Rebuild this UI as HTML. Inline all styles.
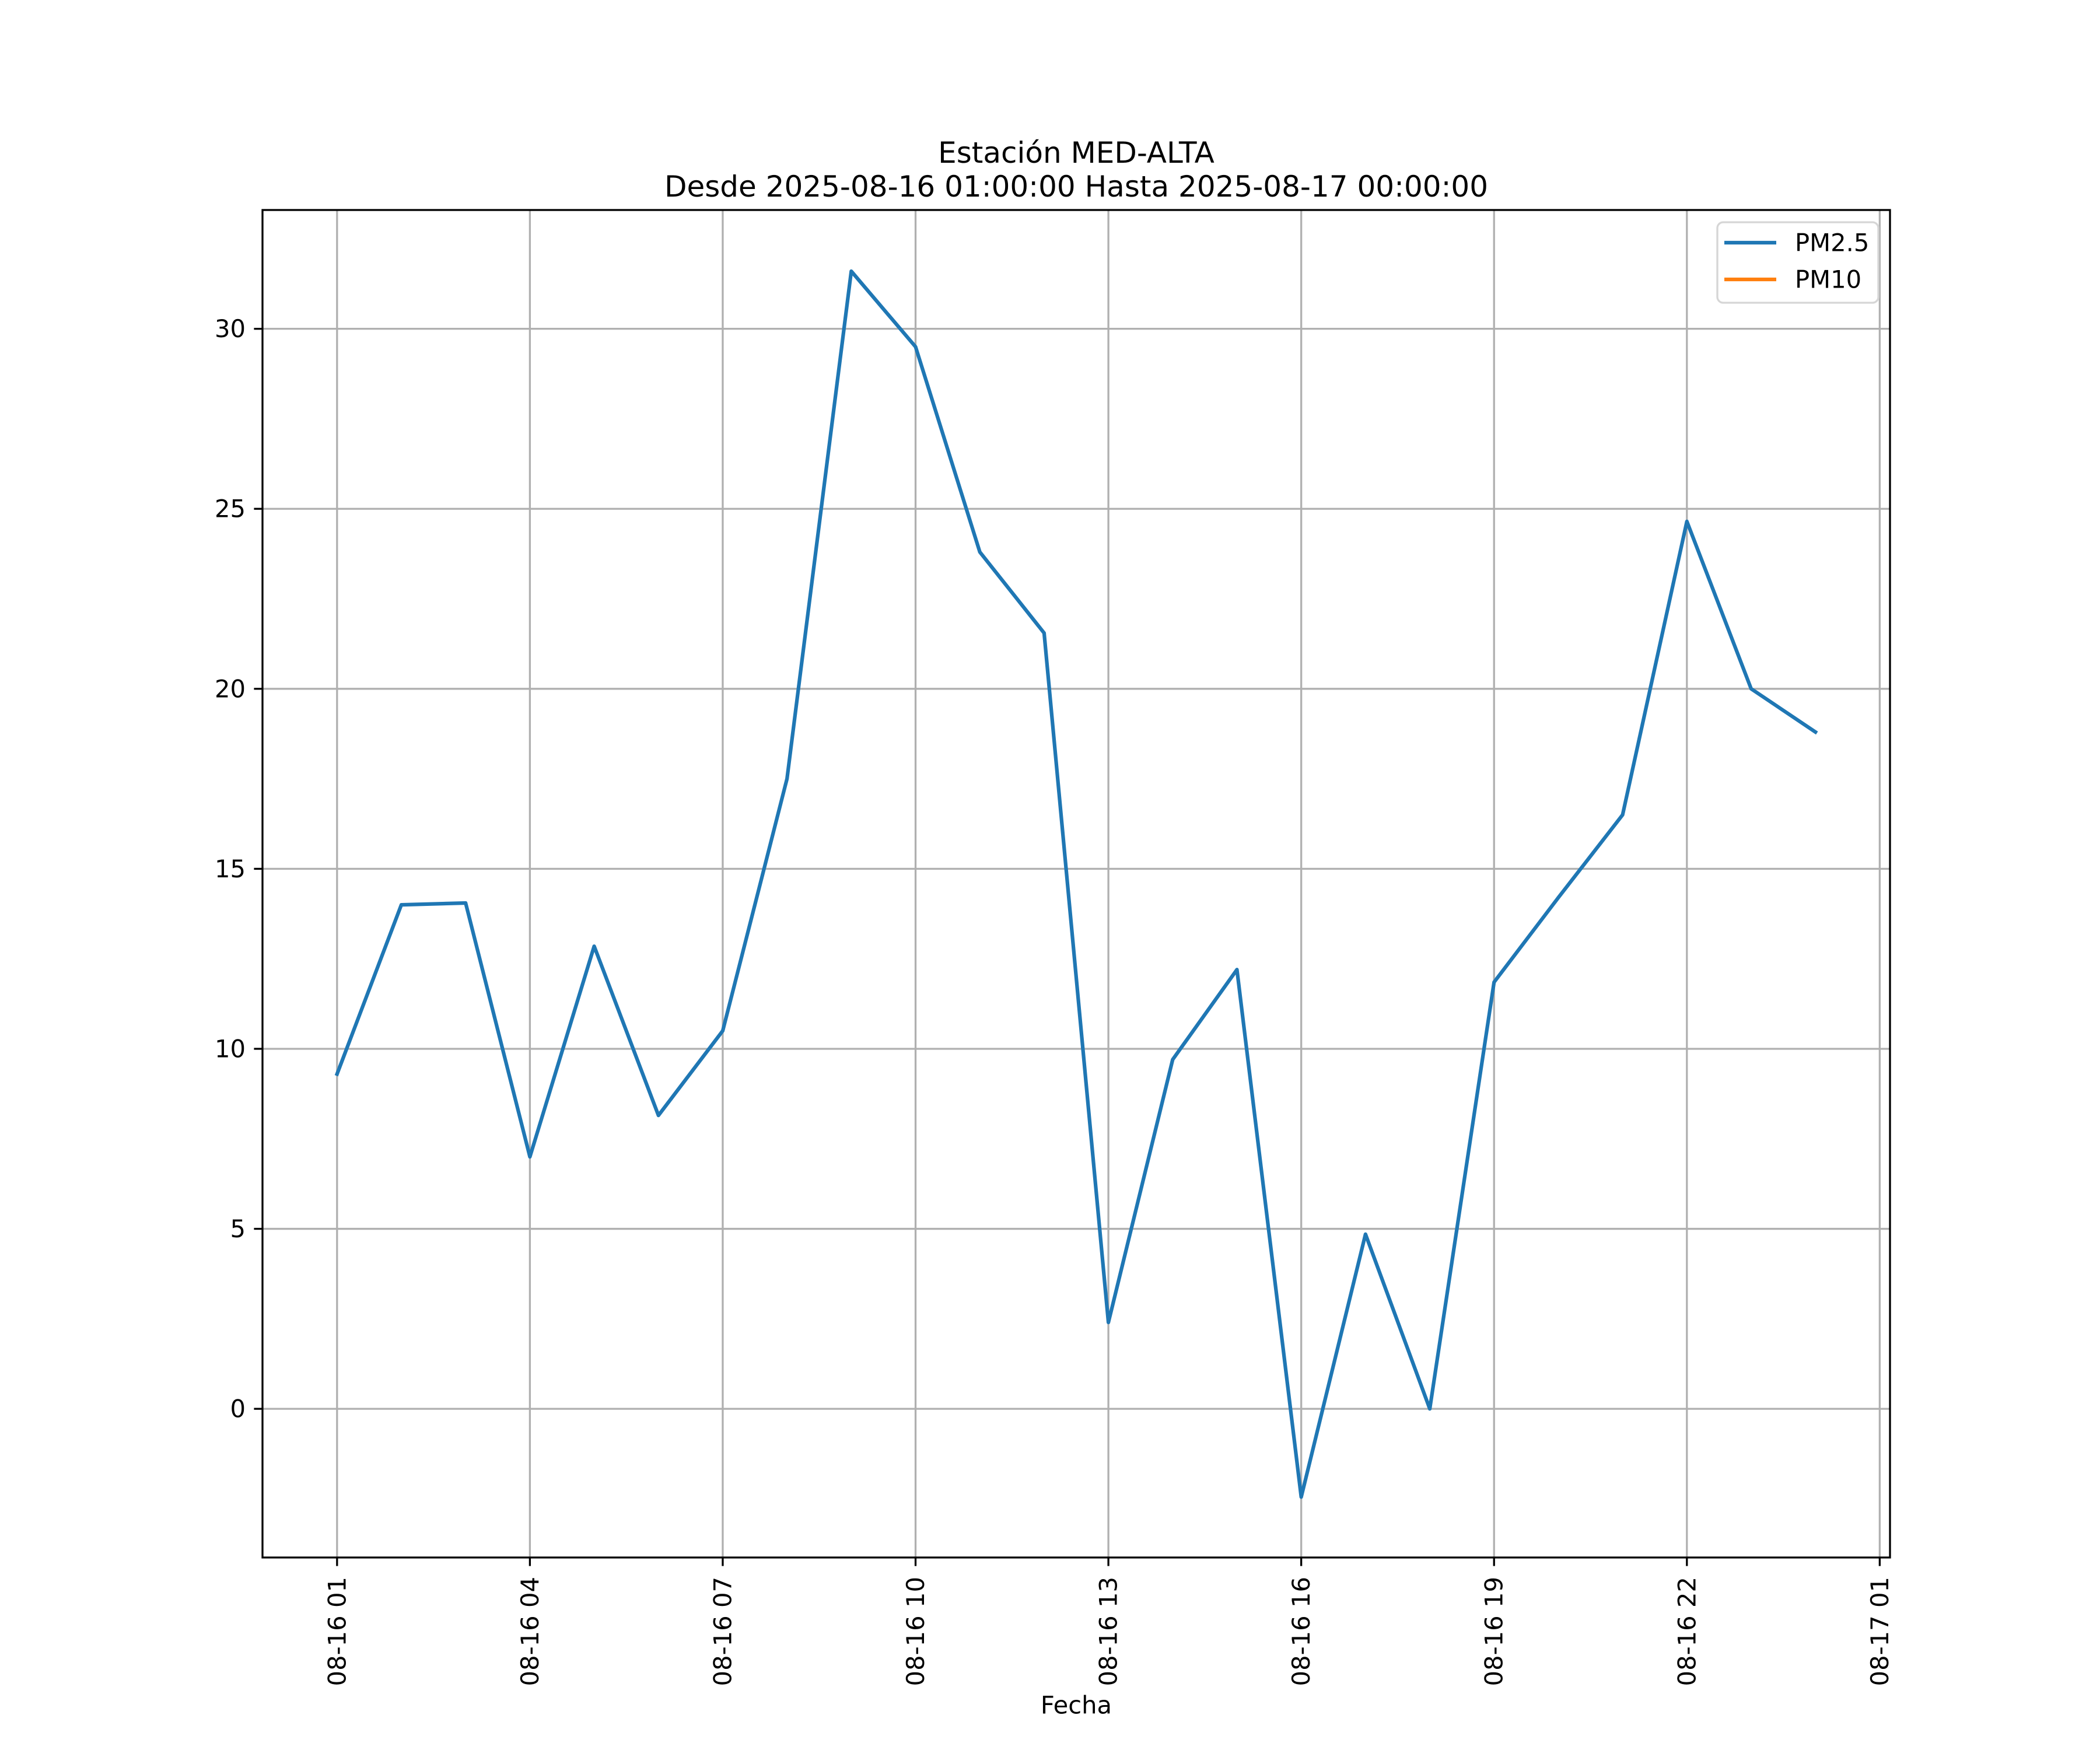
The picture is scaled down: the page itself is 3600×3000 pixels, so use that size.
<!DOCTYPE html>
<html><head><meta charset="utf-8"><style>
html,body{margin:0;padding:0;background:#fff}
svg{display:block;font-family:"DejaVu Sans","Liberation Sans",sans-serif}
</style></head><body>
<svg id="chart" width="3600" height="3000" viewBox="0 0 3600 3000" xmlns="http://www.w3.org/2000/svg">
<rect x="0" y="0" width="3600" height="3000" fill="#fff"/>
<g id="grid"></g>
<g id="series"></g>
<g id="axes"></g>
<text x="1845" y="262" font-size="50" text-anchor="middle" dominant-baseline="central">Estación MED-ALTA</text>
<text x="1845" y="320" font-size="50" text-anchor="middle" dominant-baseline="central">Desde 2025-08-16 01:00:00 Hasta 2025-08-17 00:00:00</text>
<text x="1845" y="2923" font-size="41.7" text-anchor="middle" dominant-baseline="central">Fecha</text>
<g>
<rect x="2944" y="381" width="276" height="138" rx="10" fill="#fff" fill-opacity="0.8" stroke="#d6d6d6" stroke-width="3.3"/>
<line x1="2956" y1="416" x2="3045" y2="416" stroke="#1f77b4" stroke-width="6.25"/>
<text x="3077" y="416" font-size="41.7" dominant-baseline="central">PM2.5</text>
<line x1="2956" y1="479" x2="3045" y2="479" stroke="#ff7f0e" stroke-width="6.25"/>
<text x="3077" y="479" font-size="41.7" dominant-baseline="central">PM10</text>
</g>
</svg>
<script>
const hours = [1,2,3,4,5,6,7,8,9,10,11,12,13,14,15,16,17,18,19,20,21,22,23,24];
const pm25 = [9.3,14.0,14.05,7.0,12.85,8.15,10.5,17.5,31.6,29.5,23.8,21.55,2.4,9.7,12.2,-2.45,4.85,0.0,11.85,14.2,16.5,24.65,20.0,18.8];
const pm10 = [];
const yTicks = [0,5,10,15,20,25,30];
const xTickHours = [1,4,7,10,13,16,19,22,25];
const xTickLabels = ["08-16 01","08-16 04","08-16 07","08-16 10","08-16 13","08-16 16","08-16 19","08-16 22","08-17 01"];

const L=450,R=3240,T=360,B=2670;
const xMin=-0.16,xMax=25.16,yMin=-4.13,yMax=33.3;
const sx=h=>L+(h-xMin)/(xMax-xMin)*(R-L);
const sy=v=>B-(v-yMin)/(yMax-yMin)*(B-T);
const NS="http://www.w3.org/2000/svg";
function mk(tag,attrs,parent){const e=document.createElementNS(NS,tag);for(const k in attrs)e.setAttribute(k,attrs[k]);parent.appendChild(e);return e;}
const grid=document.getElementById('grid'),axes=document.getElementById('axes'),series=document.getElementById('series');

yTicks.forEach(v=>{
  const y=sy(v);
  const g=mk('line',{x1:L,x2:R,y1:y,y2:y,stroke:'#b0b0b0','stroke-width':3.3},grid);
  
  
  const t=mk('line',{x1:L-14.6,x2:L,y1:y,y2:y,stroke:'#000','stroke-width':3.3},axes);
  
  
  const tx=mk('text',{x:L-29,y:y,'font-size':41.7,'text-anchor':'end','dominant-baseline':'central'},axes);
  
  
  tx.textContent=String(v);
});
xTickHours.forEach((h,i)=>{
  const x=sx(h);
  const g=mk('line',{x1:x,x2:x,y1:T,y2:B,stroke:'#b0b0b0','stroke-width':3.3},grid);
  
  
  const t=mk('line',{x1:x,x2:x,y1:B,y2:B+14.6,stroke:'#000','stroke-width':3.3},axes);
  
  
  const tx=mk('text',{x:0,y:0,'font-size':41.7,'text-anchor':'end','dominant-baseline':'central',transform:`translate(${x},${B+33}) rotate(-90)`},axes);
  
  
  tx.textContent=xTickLabels[i];
});
const sp=mk('rect',{x:L,y:T,width:R-L,height:B-T,fill:'none',stroke:'#000','stroke-width':3.3},axes);



const p=mk('polyline',{points:hours.map((h,i)=>sx(h)+','+sy(pm25[i])).join(' '),fill:'none',stroke:'#1f77b4','stroke-width':6.25,'stroke-linejoin':'round','stroke-linecap':'square'},series);


if(pm10.length){
  const q=mk('polyline',{points:pm10.map((v,i)=>sx(hours[i])+','+sy(v)).join(' '),fill:'none',stroke:'#ff7f0e','stroke-width':6.25},series);
  
  
}
</script>
</body></html>
